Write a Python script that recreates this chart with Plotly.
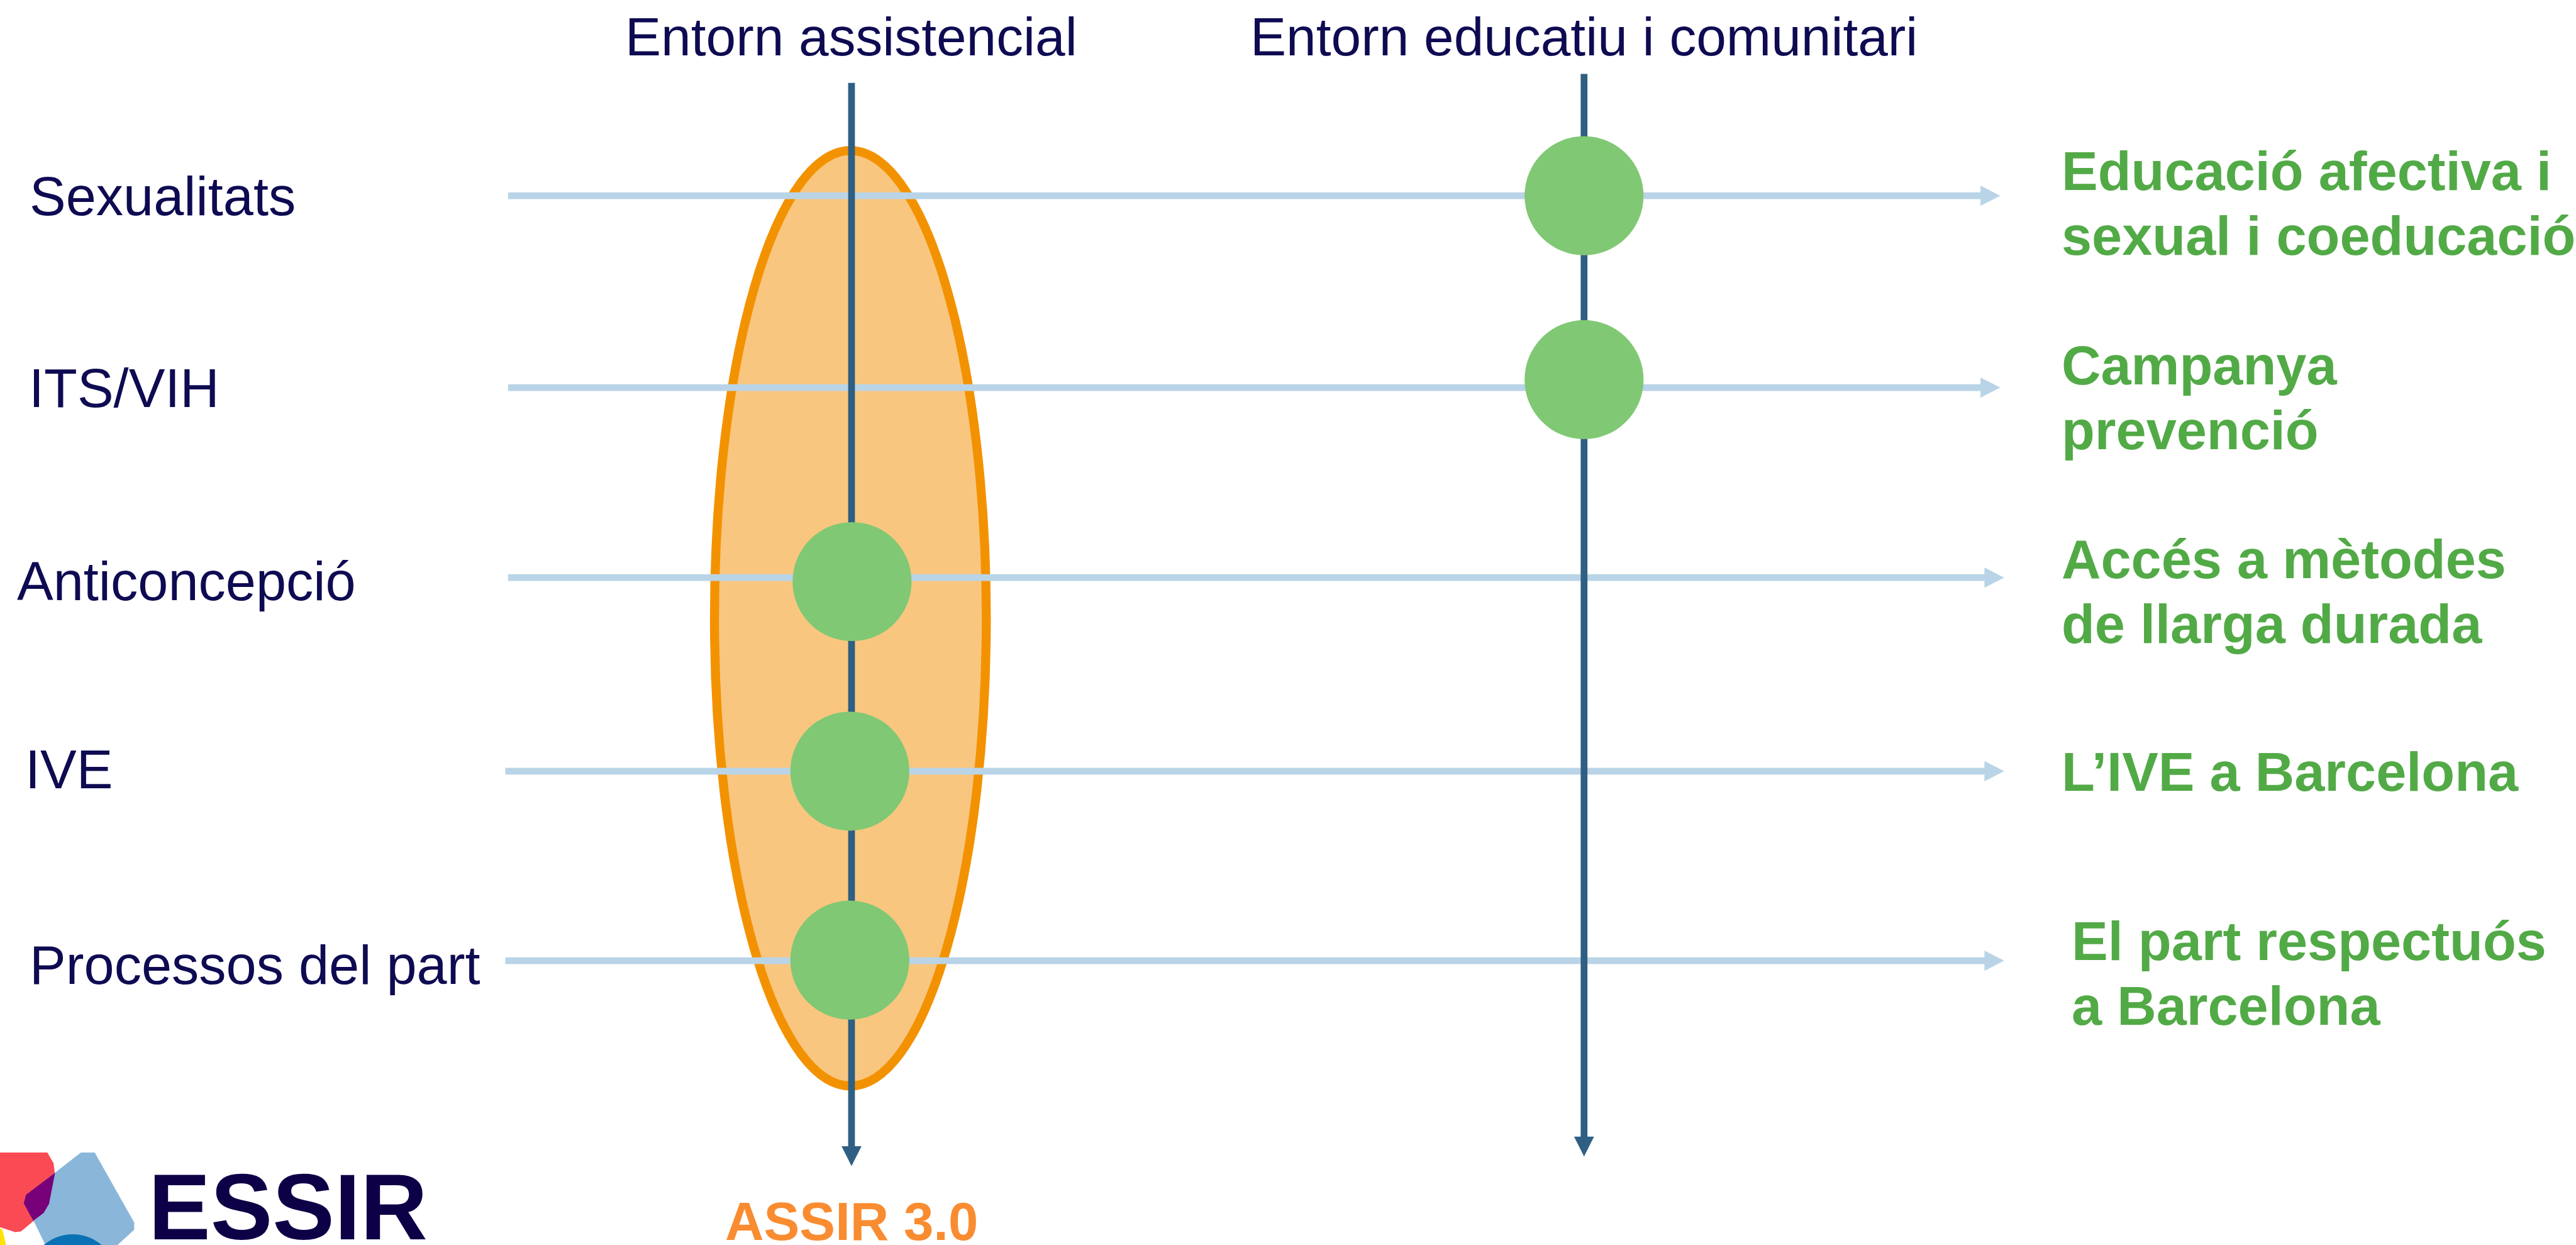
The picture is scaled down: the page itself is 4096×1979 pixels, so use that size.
import plotly.graph_objects as go

# ---------------- data ----------------
settings = ["Entorn assistencial", "Entorn educatiu i comunitari"]
rows = ["Sexualitats", "ITS/VIH", "Anticoncepció", "IVE", "Processos del part"]
row_setting = ["Entorn educatiu i comunitari", "Entorn educatiu i comunitari",
               "Entorn assistencial", "Entorn assistencial", "Entorn assistencial"]
outcomes = ["Educació afectiva i\nsexual i coeducació",
            "Campanya\nprevenció",
            "Accés a mètodes\nde llarga durada",
            "L’IVE a Barcelona",
            "El part respectuós\na Barcelona"]
program_label = "ASSIR 3.0"
program_setting = "Entorn assistencial"
brand = "ESSIR"

# ---------------- layout (reference pixel space) ----------------
W_REF, H_REF = 4568, 2207
W, H = 4096, 1979
S = W / W_REF

setting_x = [1510, 2809]
setting_top = [147, 131]
setting_tip = [2067, 2050]
title_y = 64.5

row_y = [347, 687, 1024, 1367, 1703]
row_x0 = [901, 901, 901, 896, 896]
row_tip = [3547, 3547, 3554, 3554, 3554]
dot_off = [(0, 0), (0, -14), (1, 7), (-3, 0), (-3, -1)]
dot_r = 105.5
label_x = [51, 50, 29, 43, 51]
label_y = [348, 688, 1030.5, 1363.5, 1710.5]
out_x = [3655, 3655, 3655, 3655, 3672]
out_y = [303.5, 647.5, 991.5, 1368, 1668]
out_step = 115

ell_cx, ell_cy, ell_rx, ell_ry = 1508, 1096, 241, 829
prog_y = 2165

NAVY = "#0E0B52"
GREEN_TXT = "#52AA46"
GREEN_DOT = "#80C873"
LBLUE = "#B9D4E7"
DBLUE = "#2F5F82"
ORANGE = "#F39200"
ORANGE_FILL = "#F9C680"
ORANGE_TXT = "#F98C30"
FONT = "Liberation Sans, Arial, Helvetica, sans-serif"

def px(v):
    return v * S

shapes = []
# ellipse
shapes.append(dict(type="circle", xref="x", yref="y", layer="above",
                   x0=ell_cx - ell_rx, x1=ell_cx + ell_rx,
                   y0=ell_cy - ell_ry, y1=ell_cy + ell_ry,
                   fillcolor=ORANGE_FILL, line=dict(color=ORANGE, width=px(16))))

# horizontal arrows
for i, y in enumerate(row_y):
    base = row_tip[i] - 35
    shapes.append(dict(type="line", xref="x", yref="y", layer="above",
                       x0=row_x0[i], x1=base + 1, y0=y, y1=y,
                       line=dict(color=LBLUE, width=px(12))))
    shapes.append(dict(type="path", xref="x", yref="y", layer="above",
                       path=f"M {base},{y-18} L {row_tip[i]},{y} L {base},{y+18} Z",
                       fillcolor=LBLUE, line=dict(width=0)))

# vertical arrows
for j, x in enumerate(setting_x):
    base = setting_tip[j] - 35
    shapes.append(dict(type="line", xref="x", yref="y", layer="above",
                       x0=x, x1=x, y0=setting_top[j], y1=base + 1,
                       line=dict(color=DBLUE, width=px(12))))
    shapes.append(dict(type="path", xref="x", yref="y", layer="above",
                       path=f"M {x-17.7},{base} L {x},{setting_tip[j]} L {x+17.7},{base} Z",
                       fillcolor=DBLUE, line=dict(width=0)))

# dots
for i, s in enumerate(row_setting):
    cx = setting_x[settings.index(s)] + dot_off[i][0]
    cy = row_y[i] + dot_off[i][1]
    shapes.append(dict(type="circle", xref="x", yref="y", layer="above",
                       x0=cx - dot_r, x1=cx + dot_r, y0=cy - dot_r, y1=cy + dot_r,
                       fillcolor=GREEN_DOT, line=dict(width=0)))

# logo mark
def poly(pts, color):
    d = "M " + " L ".join(f"{a},{b}" for a, b in pts) + " Z"
    return dict(type="path", xref="x", yref="y", layer="above", path=d,
                fillcolor=color, line=dict(width=0))

red_pts = [(-5, 2043), (84, 2043), (95, 2062), (97, 2079), (87, 2134), (77, 2150),
           (37, 2183), (27, 2184), (-5, 2174)]
blue_pts = [(143.5, 2043), (168, 2043), (238, 2167), (238, 2180), (203, 2212),
            (83, 2212), (60, 2165), (42, 2133), (46, 2119)]
purple_pts = [(97.6, 2079), (46, 2118), (42, 2133), (59, 2164), (77.5, 2150), (87, 2134)]
yellow_pts = [(-5, 2177), (4, 2179), (12, 2212), (-5, 2212)]
shapes.append(poly(red_pts, "#FA4B55"))
shapes.append(poly(blue_pts, "#8AB7D9"))
shapes.append(poly(purple_pts, "#780078"))
shapes.append(poly(yellow_pts, "#FFE200"))
shapes.append(dict(type="circle", xref="x", yref="y", layer="above",
                   x0=129 - 79, x1=129 + 79, y0=2267 - 79, y1=2267 + 79,
                   fillcolor="#0A72B4", line=dict(width=0)))

annotations = []
def txt(x, y, text, size_ref, color, xanchor="left", bold=False):
    annotations.append(dict(x=x, y=y, xref="x", yref="y", text=f"<b>{text}</b>" if bold else text,
                            showarrow=False, xanchor=xanchor, yanchor="middle",
                            borderpad=0, font=dict(family=FONT, size=px(size_ref), color=color)))

for j, s in enumerate(settings):
    txt(setting_x[j], title_y, s, 95.5, NAVY, xanchor="center")
for i, r in enumerate(rows):
    txt(label_x[i], label_y[i], r, 96.5, NAVY)
for i, o in enumerate(outcomes):
    for k, line in enumerate(o.split("\n")):
        txt(out_x[i], out_y[i] + k * out_step, line, 96.5, GREEN_TXT, bold=True)
txt(setting_x[settings.index(program_setting)], prog_y, program_label, 95, ORANGE_TXT,
    xanchor="center", bold=True)
annotations.append(dict(x=262, y=2140, xref="x", yref="y", text=f"<b>{brand}</b>",
                        showarrow=False, xanchor="left", yanchor="middle", borderpad=0,
                        font=dict(family=FONT, size=px(165), color="#0E0046")))

fig = go.Figure()
fig.add_trace(go.Scatter(x=[0], y=[0], mode="markers", marker=dict(opacity=0),
                         hoverinfo="skip", showlegend=False))
fig.update_layout(
    width=W, height=H, margin=dict(l=0, r=0, t=0, b=0),
    paper_bgcolor="white", plot_bgcolor="white",
    xaxis=dict(range=[0, W_REF], visible=False, fixedrange=True),
    yaxis=dict(range=[H_REF, 0], visible=False, fixedrange=True),
    shapes=shapes, annotations=annotations, showlegend=False,
)
fig.write_html("out.html", config={"displayModeBar": False},
               post_script="document.body.style.margin='0';document.body.style.overflow='hidden';")
